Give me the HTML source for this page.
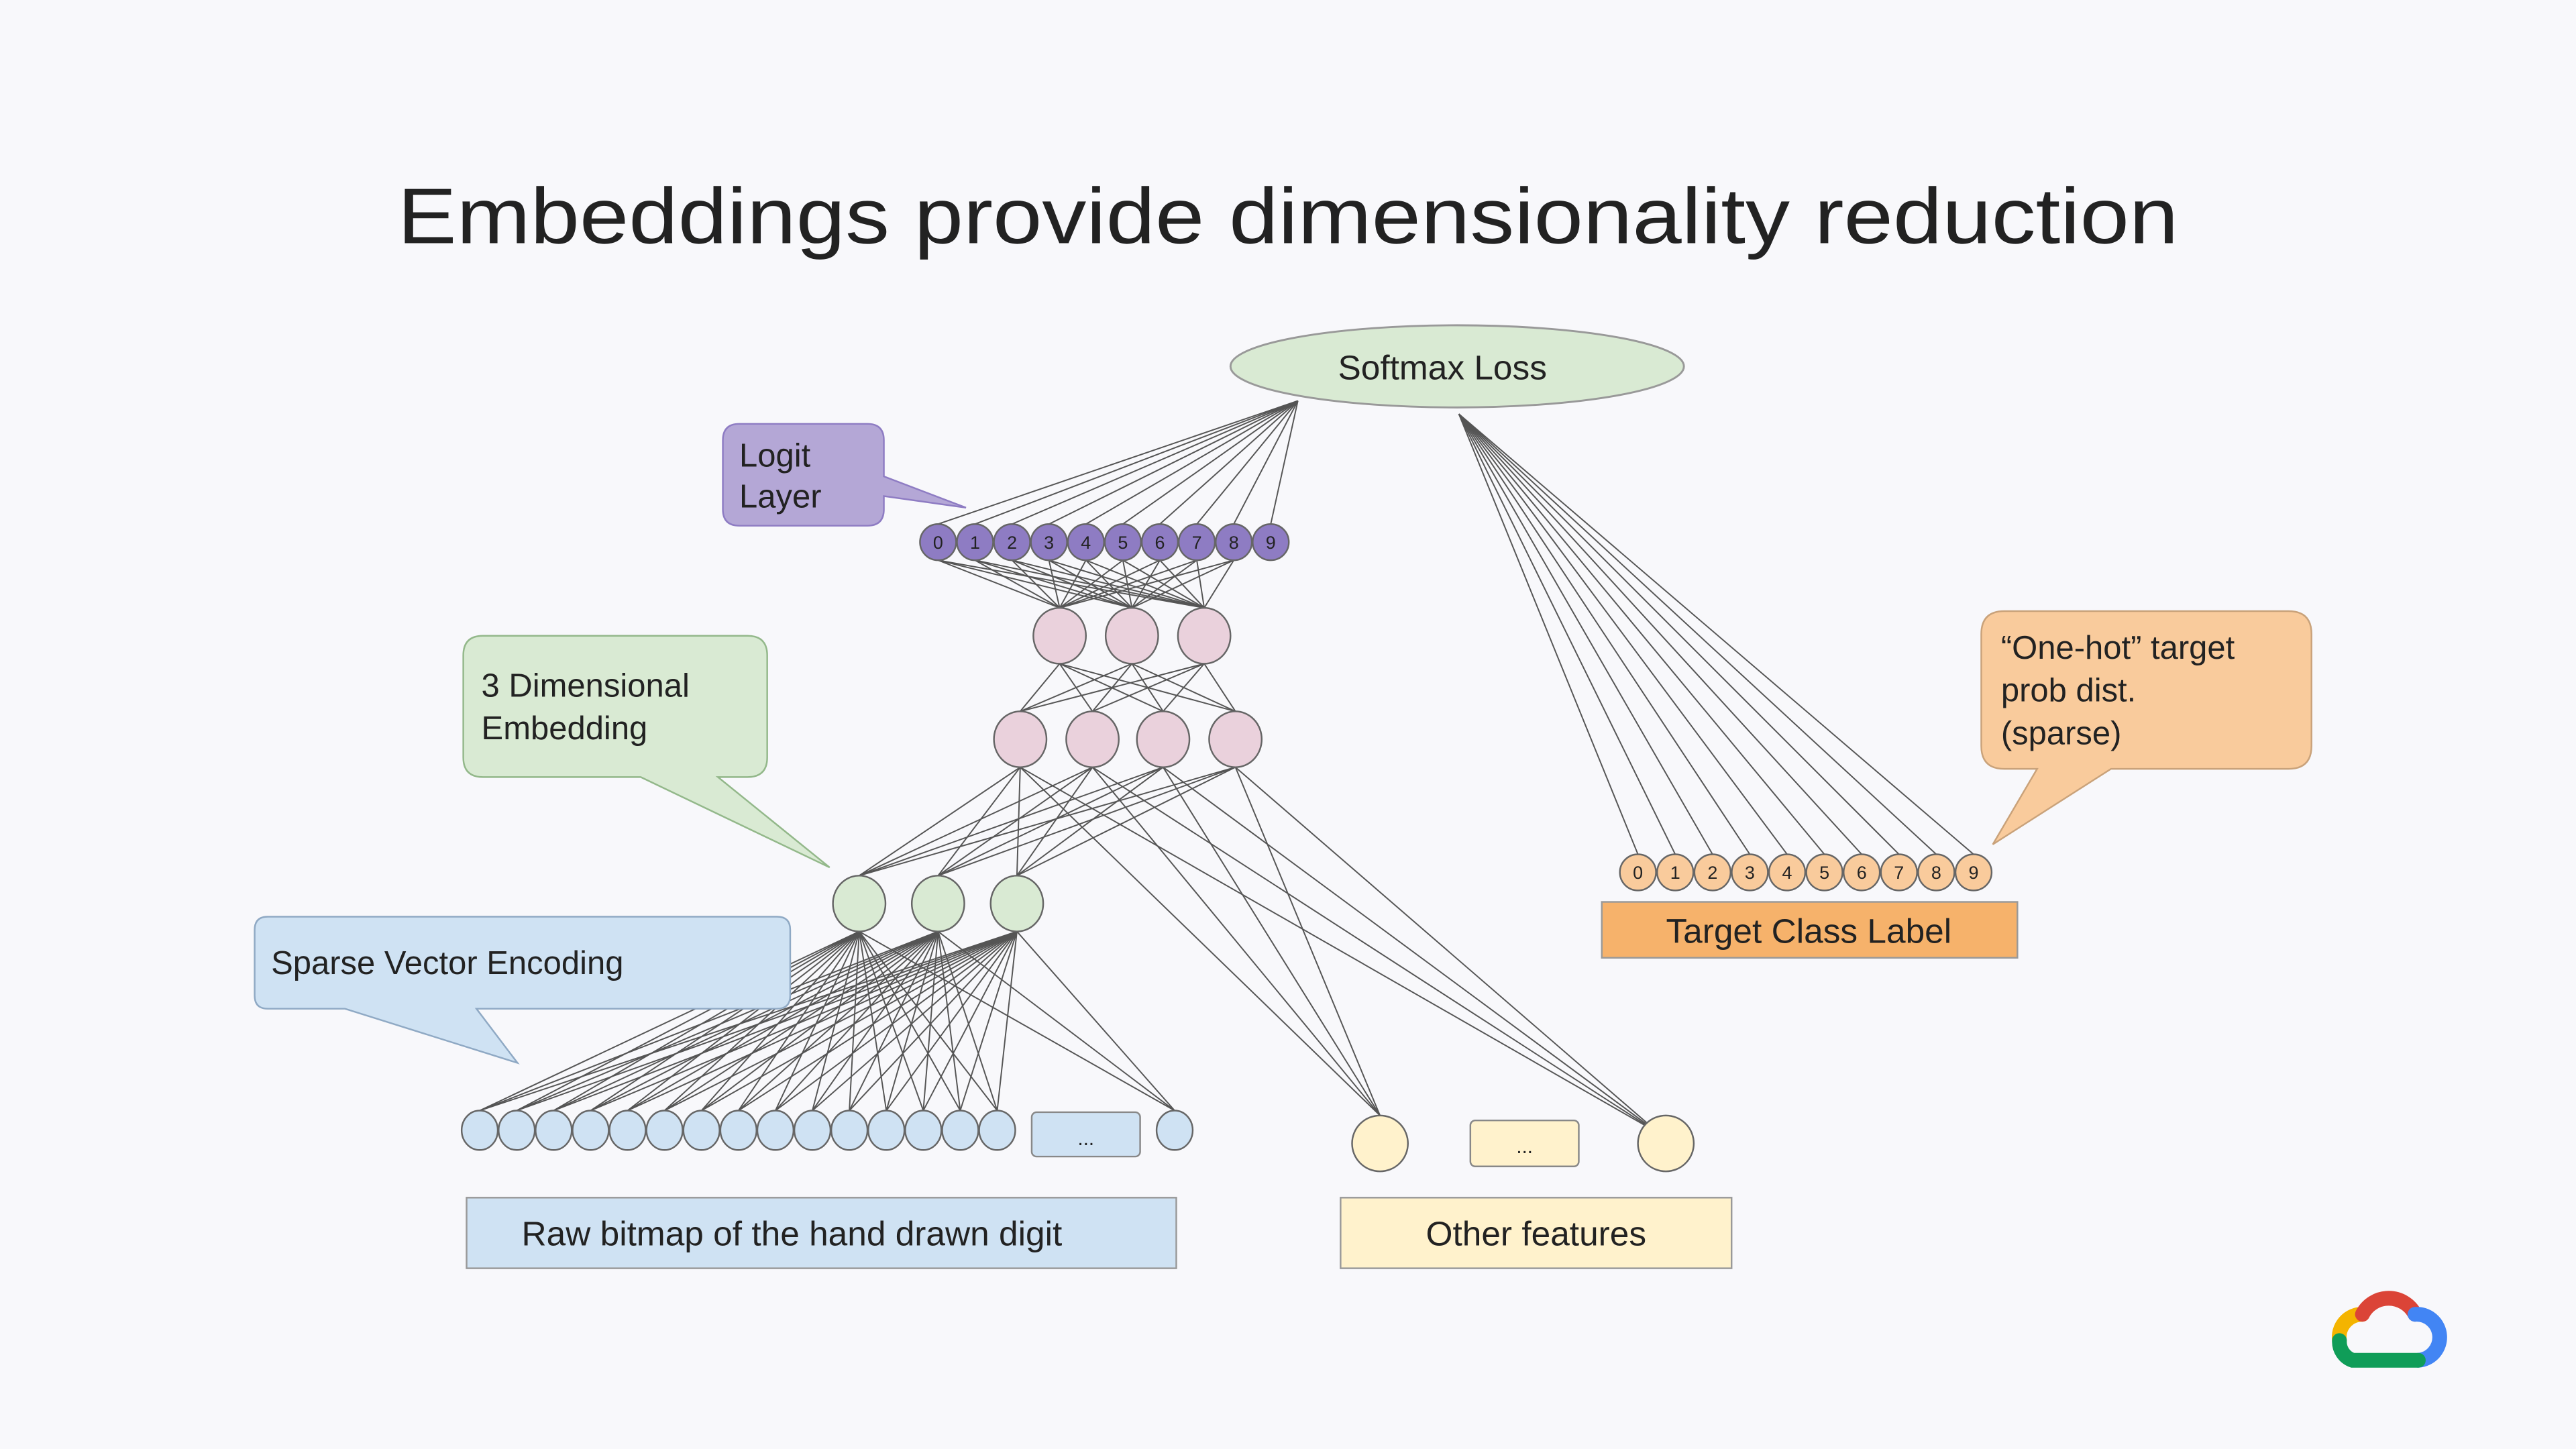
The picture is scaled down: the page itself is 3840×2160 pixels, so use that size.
<!DOCTYPE html>
<html><head><meta charset="utf-8"><style>
html,body{margin:0;padding:0;background:#f8f8fb;}
svg{display:block}
text{font-family:"Liberation Sans",sans-serif;fill:#222}
</style></head><body>
<svg id="s" width="3840" height="2160" viewBox="0 0 1568 882" xmlns="http://www.w3.org/2000/svg">
<rect width="1568" height="882" fill="#f8f8fb"/>
<text x="784" y="148" font-size="48" text-anchor="middle" textLength="1084" lengthAdjust="spacingAndGlyphs">Embeddings provide dimensionality reduction</text>
<g id="lines" stroke="#555" stroke-width="0.8" fill="none"></g>
<ellipse cx="887" cy="223" rx="138" ry="25" fill="#d9ead3" stroke="#999" stroke-width="1.2"/>
<text x="878" y="231" font-size="21" text-anchor="middle">Softmax Loss</text>

<path d="M450,258 H528 Q538,258 538,268 V290 L588,309 L538,302 V310 Q538,320 528,320 H450 Q440,320 440,310 V268 Q440,258 450,258 Z" fill="#b4a7d6" stroke="#8e7cc3"/>
<text x="450" y="284" font-size="20">Logit</text>
<text x="450" y="309" font-size="20">Layer</text>

<path d="M294,387 H455 Q467,387 467,399 V461 Q467,473 455,473 H437 L505,528 L390,473 H294 Q282,473 282,461 V399 Q282,387 294,387 Z" fill="#d9ead3" stroke="#93b88a"/>
<text x="293" y="424" font-size="20">3 Dimensional</text>
<text x="293" y="450" font-size="20">Embedding</text>

<path d="M163,558 H473 Q481,558 481,566 V606 Q481,614 473,614 H290 L315,647 L210,614 H163 Q155,614 155,606 V566 Q155,558 163,558 Z" fill="#cfe2f3" stroke="#8fa9c4"/>
<text x="165" y="593" font-size="20">Sparse Vector Encoding</text>

<path d="M1220,372 H1393 Q1407,372 1407,386 V454 Q1407,468 1393,468 H1285 L1213,514 L1240,468 H1220 Q1206,468 1206,454 V386 Q1206,372 1220,372 Z" fill="#f9cb9c" stroke="#c9a27a"/>
<text x="1218" y="401" font-size="20">“One-hot” target</text>
<text x="1218" y="427" font-size="20">prob dist.</text>
<text x="1218" y="453" font-size="20">(sparse)</text>

<g id="nodes"></g>

<rect x="628" y="677" width="66" height="27" rx="3" fill="#cfe2f3" stroke="#888"/>
<text x="661" y="697" font-size="12" text-anchor="middle">...</text>
<rect x="895" y="682" width="66" height="28" rx="3" fill="#fff2cc" stroke="#888"/>
<text x="928" y="702" font-size="12" text-anchor="middle">...</text>

<rect x="284" y="729" width="432" height="43" fill="#cfe2f3" stroke="#999"/>
<text x="482" y="758" font-size="21" text-anchor="middle">Raw bitmap of the hand drawn digit</text>
<rect x="816" y="729" width="238" height="43" fill="#fff2cc" stroke="#999"/>
<text x="935" y="758" font-size="21" text-anchor="middle">Other features</text>
<rect x="975" y="549" width="253" height="34" fill="#f6b26b" stroke="#999"/>
<text x="1101" y="574" font-size="21" text-anchor="middle">Target Class Label</text>

<g transform="translate(1452,810)" fill="none" stroke-width="9" stroke-linecap="round">
<path d="M-28,6 A14,14 0 0 1 -14,-10" stroke="#f4b400"/>
<path d="M-14,-10 A18,18 0 0 1 18,-10" stroke="#db4437"/>
<path d="M18,-10 A13,13 0 0 1 20,18" stroke="#4285f4"/>
<path d="M20,18 H-20 A12,12 0 0 1 -28,6" stroke="#0f9d58"/>
</g>
</svg>
<script>
const NS="http://www.w3.org/2000/svg";
const L=document.getElementById('lines'),N=document.getElementById('nodes');
function line(a,b,c,d){const l=document.createElementNS(NS,'line');l.setAttribute('x1',a);l.setAttribute('y1',b);l.setAttribute('x2',c);l.setAttribute('y2',d);L.appendChild(l);}
function node(x,y,rx,ry,fill,label,fs){const e=document.createElementNS(NS,'ellipse');e.setAttribute('cx',x);e.setAttribute('cy',y);e.setAttribute('rx',rx);e.setAttribute('ry',ry);e.setAttribute('fill',fill);e.setAttribute('stroke','#666');e.setAttribute('stroke-width','1');N.appendChild(e);
if(label!==undefined){const t=document.createElementNS(NS,'text');t.setAttribute('x',x);t.setAttribute('y',y+4);t.setAttribute('font-size',fs||11);t.setAttribute('text-anchor','middle');t.textContent=label;N.appendChild(t);}}
const logit=[],orange=[],blue=[];
for(let i=0;i<10;i++){logit.push(571+i*22.5);orange.push(997+i*22.7);}
for(let i=0;i<15;i++)blue.push(292+i*22.5);
blue.push(715);
const p1=[645,689,733],p2=[621,665,708,752],g=[523,571,619],yel=[840,1014];
logit.forEach(x=>line(790,244,x,319));
orange.forEach(x=>line(888,252,x,520));
logit.slice(0,9).forEach(x=>p1.forEach(p=>line(x,341,p,370)));
p1.forEach(a=>p2.forEach(b=>line(a,404,b,433)));
p2.forEach(a=>{g.forEach(b=>line(a,467,b,533));line(a,467,840,679);line(a,467,1010,690);});
g.forEach(a=>blue.forEach(b=>line(a,567,b,676)));
logit.forEach((x,i)=>node(x,330,11,11,'#8e7cc3',String(i),11));
orange.forEach((x,i)=>node(x,531,11,11,'#f9cb9c',String(i),11));
p1.forEach(x=>node(x,387,16,17,'#ead1dc'));
p2.forEach(x=>node(x,450,16,17,'#ead1dc'));
g.forEach(x=>node(x,550,16,17,'#d9ead3'));
blue.forEach(x=>node(x,688,11,12,'#cfe2f3'));
yel.forEach(x=>node(x,696,17,17,'#fff2cc'));
</script>
</body></html>
